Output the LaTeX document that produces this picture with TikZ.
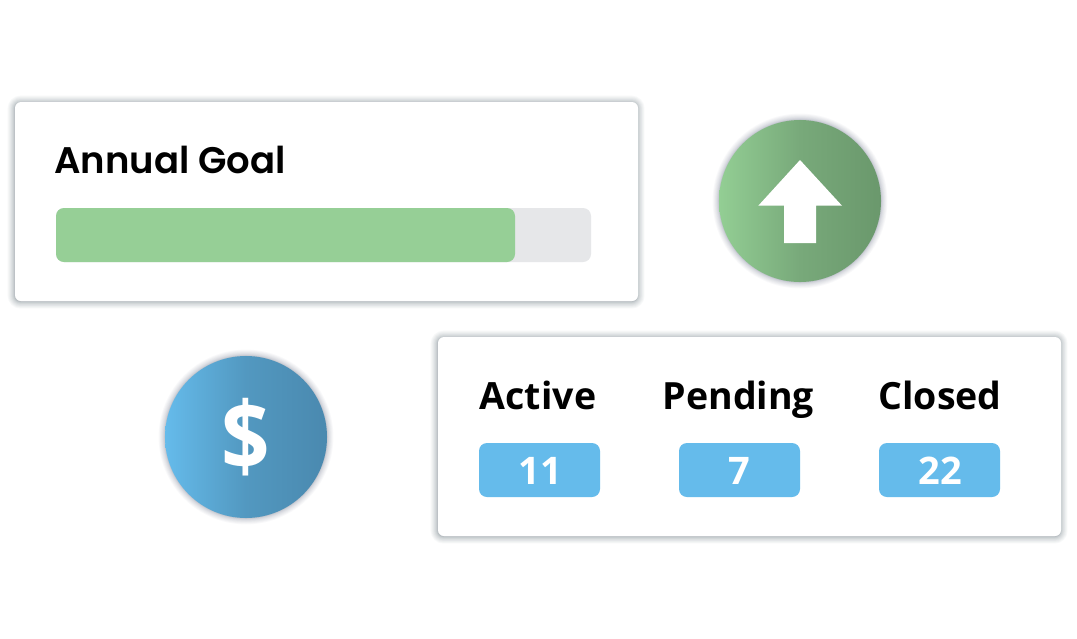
\documentclass[tikz,border=0pt]{standalone}
\usepackage{fontspec}
\setmainfont{Open Sans}
\newfontfamily\titlefont{Poppins SemiBold}
\usetikzlibrary{shadings}
\definecolor{cardshadow}{HTML}{7C8890}
\definecolor{roundshadow}{HTML}{5F6880}
\definecolor{barfill}{HTML}{96CF96}
\definecolor{bartrack}{HTML}{E6E7E9}
\definecolor{badgeblue}{HTML}{65BBEB}
\definecolor{gl}{HTML}{93CE94}
\definecolor{gm}{HTML}{78A97A}
\definecolor{gr}{HTML}{6A986C}
\definecolor{bl}{HTML}{65BBEB}
\definecolor{bm}{HTML}{5298C0}
\definecolor{br}{HTML}{4A89AF}
\tikzset{
  card/.style={fill=white,rounded corners=6pt,minimum width=623pt,minimum height=199pt,inner sep=0pt,outer sep=0pt},
  badge/.style={fill=badgeblue,rounded corners=8pt,minimum width=121pt,minimum height=54pt,inner sep=0pt,outer sep=0pt},
  valuetext/.style={font=\fontsize{38}{38}\selectfont\bfseries,anchor=base,inner sep=0pt,text=white},
  head/.style={font=\fontsize{37.5}{37.5}\selectfont\bfseries,anchor=base,inner sep=0pt,text=black},
  greendisc/.style={circle,minimum size=162pt,inner sep=0pt,outer sep=0pt,left color=gl,right color=gr,middle color=gm},
  bluedisc/.style={circle,minimum size=162pt,inner sep=0pt,outer sep=0pt,left color=bl,right color=br,middle color=bm},
}
\newcommand{\cardglow}[2]{%
  \foreach \w in {1,2,...,14}{
    \path[draw=cardshadow,draw opacity=0.05,line width=\w*\w*0.07pt,rounded corners=6pt]
      (#1-0.4,#2+0.6) rectangle ++(623,199);
  }}
\newcommand{\discglow}[2]{%
  \foreach \w in {1,2,...,14}{
    \path[draw=roundshadow,draw opacity=0.035,line width=\w*\w*0.065pt] (#1,#2) circle (81pt);
  }}
\begin{document}
\begin{tikzpicture}[x=1pt,y=-1pt]
\useasboundingbox (0,0) rectangle (1077,638);
\fill[white] (0,0) rectangle (1077,638);
\cardglow{15}{102}
\cardglow{438}{337}
\discglow{800}{201}
\discglow{246}{437}
\node[card] (goalcard) at (326.5,201.5) {};
\node[card] (statcard) at (749.5,436.5) {};
\node[head,font=\fontsize{37}{37}\selectfont\titlefont] (goaltitle) at (170,173) {Annual Goal};
\node[fill=bartrack,rounded corners=8pt,minimum width=535pt,minimum height=54pt,inner sep=0pt] (track) at (323.5,235) {};
\node[fill=barfill,rounded corners=8pt,minimum width=459pt,minimum height=54pt,inner sep=0pt] (progress) at (285.5,235) {};
\node[greendisc] (updisc) at (800,201) {};
\fill[white] (800,160) -- (842,205.7) -- (816,205.7) -- (816,243) -- (784,243) -- (784,205.7) -- (758.3,205.7) -- cycle;
\node[bluedisc] (bluecoin) at (246,437) {};
\node[text=white,inner sep=0pt,yscale=1.12,font=\fontsize{85}{85}\selectfont\bfseries] (dollar) at (246,437) {\$};
\node[head] (active) at (538,409) {Active};
\node[head] (pending) at (738.5,409) {Pending};
\node[head] (closed) at (940,409) {Closed};
\node[badge] (b11) at (539.5,470) {};
\node[badge] (b7) at (739.5,470) {};
\node[badge] (b22) at (939.5,470) {};
\node[valuetext] (n11) at (540,484) {11};
\node[valuetext] (n7) at (739,484) {7};
\node[valuetext] (n22) at (940,484) {22};
\end{tikzpicture}
\end{document}
